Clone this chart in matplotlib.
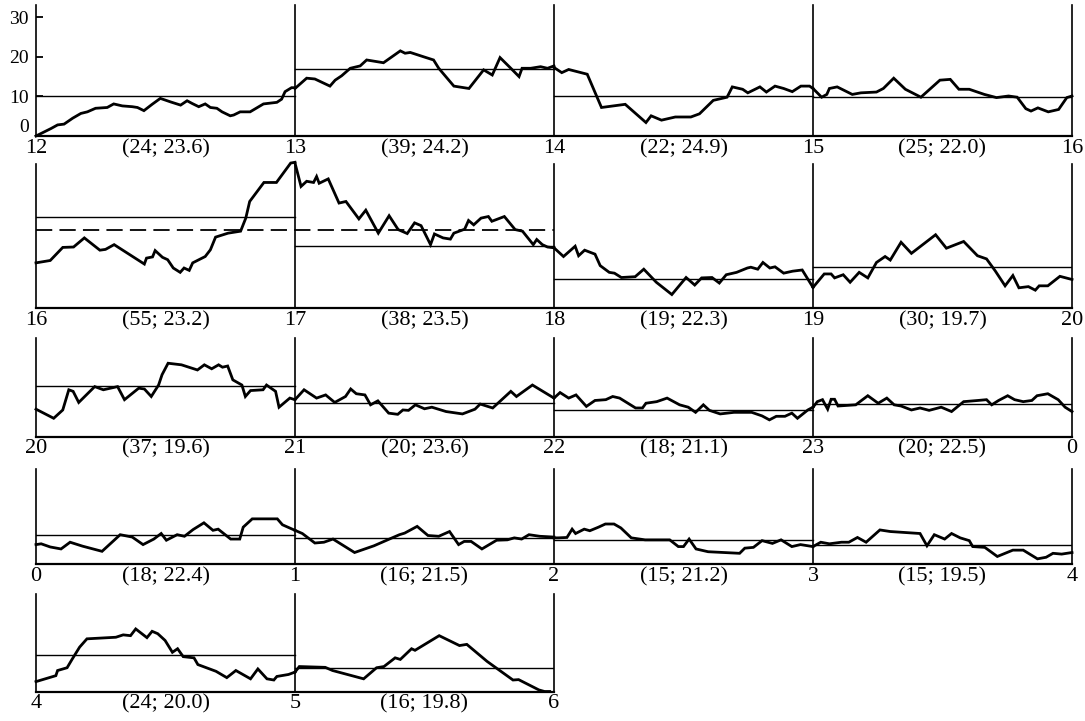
import matplotlib
matplotlib.use("Agg")
import matplotlib.pyplot as plt
from matplotlib.ticker import FixedLocator, FixedFormatter

plt.rcParams['font.family'] = ['Liberation Serif', 'DejaVu Serif']

# ---------------- data ----------------
# start hour of every panel (5 rows)
row_hours = [[12, 13, 14, 15, 16], [16, 17, 18, 19, 20], [20, 21, 22, 23, 0],
             [0, 1, 2, 3, 4], [4, 5, 6]]
panel_n = [24, 39, 22, 25, 55, 38, 19, 30, 37, 20, 18, 20, 18, 16, 15, 15, 24, 16]
panel_v = [23.6, 24.2, 24.9, 22.0, 23.2, 23.5, 22.3, 19.7, 19.6, 23.6, 21.1, 22.5,
           22.4, 21.5, 21.2, 19.5, 20.0, 19.8]
mean_level = [10.0, 16.8, 10.0, 9.9, 23.1, 15.7, 7.3, 10.3, 12.8, 8.4, 6.7, 8.2,
              7.4, 6.5, 6.1, 4.7, 9.1, 5.9]
dashed_level = 19.6          # dashed line over 16-18 h
y_ticks_row1 = [0, 10, 20, 30]

p12_t = [0, 3.5, 5, 6.5, 8.5, 10.4, 11.9, 13.8, 16.5, 18, 20, 22.3, 23.5, 25, 26.9, 28.8, 31.2, 33.5, 35, 36.2, 37.7, 39.2, 40.4, 41.9, 43.1, 45, 45.8, 47.3, 49.6, 52.7, 55.8, 56.9, 57.7, 59.2, 60]
p12_v = [0, 1.9, 2.8, 3.0, 4.5, 5.7, 6.1, 7.0, 7.2, 8.1, 7.6, 7.4, 7.2, 6.4, 8.0, 9.5, 8.6, 7.8, 8.9, 8.2, 7.4, 8.1, 7.2, 7.0, 6.1, 5.1, 5.3, 6.1, 6.1, 8.1, 8.5, 9.3, 11.2, 12.2, 12.2]
p13_t = [0, 2.7, 4.6, 8.1, 9.3, 10.8, 12.8, 15.1, 16.6, 20.5, 24.4, 25.5, 26.7, 29.8, 32.1, 33.3, 36.8, 40.3, 43.7, 45.7, 47.5, 50, 51.9, 52.6, 54.6, 56.9, 58.5, 60]
p13_v = [12.0, 14.6, 14.4, 12.6, 14.1, 15.2, 17.1, 17.7, 19.2, 18.5, 21.5, 20.9, 21.1, 20.0, 19.2, 17.1, 12.6, 12.0, 16.7, 15.4, 19.8, 17.1, 15.0, 17.1, 17.1, 17.5, 17.1, 17.7]
p14_t = [0, 1.8, 3.4, 7.7, 11, 16.5, 21.3, 22.5, 24.9, 28.1, 31.7, 33.7, 36.9, 40.1, 41.3, 43.7, 44.9, 47.7, 49.2, 51.2, 53.2, 55.2, 57.2, 59.2, 60]
p14_v = [17.3, 16.0, 16.8, 15.6, 7.2, 8.0, 3.4, 5.1, 4.0, 4.8, 4.8, 5.6, 9.0, 9.8, 12.4, 11.8, 10.9, 12.4, 11.1, 12.6, 12.0, 11.2, 12.6, 12.6, 12.0]
p15_t = [0, 2, 3.2, 3.8, 5.6, 9.1, 11.1, 14.7, 16.3, 18.7, 21.4, 25, 29.4, 31.8, 33.8, 36.2, 39.7, 42.5, 45.3, 47.3, 49.3, 50.5, 52.1, 54.5, 56.9, 58.8, 60]
p15_v = [12.0, 9.8, 10.5, 12.0, 12.4, 10.5, 10.9, 11.1, 12.0, 14.6, 11.8, 9.8, 14.1, 14.3, 11.8, 11.8, 10.5, 9.7, 10.1, 9.8, 6.9, 6.3, 7.1, 6.1, 6.7, 9.7, 10.1]
p16_t = [0, 3.3, 6.2, 8.7, 11.2, 14.8, 16.1, 18.1, 25.1, 25.6, 27, 27.6, 29.3, 30.5, 31.8, 33.4, 34.3, 35.5, 36.3, 39.2, 40.4, 41.6, 44.5, 47.4, 48.6, 49.5, 52.8, 55.7, 59, 60]
p16_v = [11.4, 12.0, 15.3, 15.4, 17.7, 14.6, 14.8, 16.0, 11.1, 12.6, 12.9, 14.5, 12.8, 12.2, 10.1, 9.0, 10.1, 9.5, 11.4, 13.0, 14.7, 17.9, 18.9, 19.4, 22.7, 26.9, 31.7, 31.7, 36.6, 36.8]
p17_t = [0, 1.4, 2.7, 4.3, 5, 5.6, 7.7, 10.2, 11.8, 14.8, 16.4, 19.3, 21.8, 23.9, 26, 27.7, 29.2, 31.4, 32.3, 34.3, 36, 36.8, 39.3, 40.2, 41.4, 43.1, 44.8, 45.6, 48.5, 51, 52.7, 55.2, 56, 57.3, 58.5, 60]
p17_v = [36.6, 30.7, 32.0, 31.7, 33.2, 31.5, 32.6, 26.5, 26.9, 22.5, 24.7, 18.9, 23.3, 19.8, 18.8, 21.5, 20.8, 16.0, 18.7, 17.7, 17.4, 18.9, 19.9, 22.1, 21.0, 22.7, 23.1, 21.9, 23.1, 19.8, 19.4, 16.0, 17.3, 16.0, 15.4, 15.2]
p18_t = [0, 2.2, 4.9, 5.7, 7.1, 9.5, 10.7, 12.8, 14, 15.6, 18.8, 20.8, 23.7, 27.3, 30.6, 32.6, 34.2, 36.6, 38.3, 39.9, 42.3, 44.8, 45.6, 47.2, 48.4, 50, 51.2, 53.2, 55.3, 57.5, 60]
p18_v = [15.2, 13.0, 15.6, 13.2, 14.6, 13.6, 10.7, 9.0, 8.8, 7.7, 7.9, 9.8, 6.5, 3.4, 7.7, 5.8, 7.6, 7.7, 6.3, 8.4, 9.0, 10.1, 10.3, 9.8, 11.5, 10.1, 10.4, 8.8, 9.3, 9.6, 5.2]
p19_t = [0, 2.6, 4.2, 5, 7, 8.6, 10.7, 12.7, 14.7, 16.7, 17.9, 20.4, 22.8, 28.4, 30.9, 34.9, 38.1, 40.2, 42.2, 44.5, 46.3, 47.7, 49.9, 51.5, 52.4, 54.4, 57.2, 60]
p19_v = [5.2, 8.6, 8.6, 7.6, 8.4, 6.5, 9.0, 7.6, 11.5, 13.0, 12.1, 16.6, 13.8, 18.5, 15.1, 16.8, 13.2, 12.4, 9.4, 5.6, 8.2, 5.1, 5.4, 4.5, 5.6, 5.6, 8.0, 7.2]
p20_t = [0, 4.1, 6.2, 7.6, 8.6, 9.9, 13.6, 15.6, 18.9, 20.5, 23.8, 25.1, 26.7, 28.4, 29.2, 30.6, 33.7, 37.4, 39, 40.7, 42.3, 43.2, 44.4, 45.6, 47.7, 48.5, 49.7, 52.6, 53.4, 55.5, 56.3, 58.8, 60]
p20_v = [6.9, 4.6, 6.7, 11.8, 11.4, 8.6, 12.6, 11.8, 12.6, 9.3, 12.2, 12.0, 10.1, 13.0, 15.6, 18.5, 18.1, 16.8, 18.1, 17.1, 18.1, 17.5, 17.8, 14.3, 13.0, 10.1, 11.6, 11.8, 13.0, 11.4, 7.4, 9.7, 9.3]
p21_t = [0, 2.1, 5, 7.1, 9.2, 11.7, 12.9, 14.2, 16.2, 17.5, 19.2, 21.7, 23.8, 25, 26.3, 27.9, 30, 31.7, 35, 38.8, 41.7, 42.9, 45.8, 50, 51.3, 55, 60]
p21_v = [9.3, 11.8, 9.7, 10.5, 8.6, 10.1, 12.0, 10.8, 10.5, 8.0, 9.0, 5.9, 5.6, 6.7, 6.6, 8.0, 7.0, 7.4, 6.3, 5.7, 6.9, 8.2, 7.2, 11.4, 10.1, 13.0, 9.7]
p22_t = [0, 1.4, 3.4, 5.1, 7.5, 9.5, 12, 13.6, 15.2, 18.9, 20.5, 21.3, 23.8, 26.2, 29.1, 31.1, 32.8, 34.6, 36, 38.5, 41.7, 45.8, 48.2, 49.9, 51.5, 53.5, 55.1, 56.4, 58.8, 60]
p22_v = [9.7, 11.1, 9.7, 10.5, 7.6, 9.1, 9.3, 10.1, 9.7, 7.2, 7.2, 8.4, 8.8, 9.7, 8.0, 7.4, 6.1, 8.0, 6.6, 5.7, 6.1, 6.1, 5.2, 4.2, 5.1, 5.1, 5.9, 4.6, 6.7, 7.4]
p23_t = [0, 1, 2.2, 3.4, 4.2, 5, 5.8, 9.9, 12.7, 15.1, 17.1, 18.8, 20.4, 22.8, 24.8, 26.9, 29.7, 32.1, 34.9, 38.2, 40.2, 41.4, 43, 45.1, 46.7, 48.7, 50.7, 51.9, 54.4, 56.8, 58.4, 60]
p23_v = [7.4, 8.8, 9.3, 6.9, 9.4, 9.4, 7.7, 8.0, 10.3, 8.4, 9.7, 8.0, 7.7, 6.7, 7.2, 6.6, 7.4, 6.3, 8.8, 9.1, 9.3, 8.0, 9.1, 10.3, 9.3, 8.8, 9.1, 10.3, 10.8, 9.3, 7.4, 6.3]
p0_t = [0, 1.2, 3.3, 5.8, 7.9, 10.8, 15.3, 19.5, 22.3, 24.8, 27.3, 29, 30.2, 32.7, 34.4, 36.4, 38.9, 41, 42.2, 45.1, 47.2, 48, 50.1, 55.9, 57.1, 60]
p0_v = [4.9, 5.1, 4.3, 3.8, 5.5, 4.5, 3.2, 7.4, 6.8, 4.9, 6.3, 7.7, 6.0, 7.4, 7.0, 8.7, 10.4, 8.5, 8.8, 6.3, 6.3, 9.3, 11.4, 11.4, 9.9, 8.5]
p1_t = [0, 1.7, 4.6, 6.7, 8.8, 11.3, 13.8, 18.3, 22.5, 24.2, 25.4, 28.3, 30.8, 33.3, 35.8, 37.9, 39.2, 40.8, 43.3, 46.7, 49.2, 50.8, 52.5, 54.2, 56.7, 60]
p1_v = [8.5, 7.7, 5.3, 5.5, 6.3, 4.6, 2.9, 4.6, 6.6, 7.4, 7.8, 9.5, 7.2, 7.0, 8.2, 4.9, 5.7, 5.7, 3.8, 6.0, 6.1, 6.6, 6.3, 7.4, 7.0, 6.8]
p2_t = [0, 1, 3, 4.2, 5, 7, 8.3, 10.3, 11.9, 13.9, 15.5, 17.9, 21.1, 26.8, 28.8, 30, 31.3, 32.9, 35.7, 43, 44.2, 46.2, 48.2, 50.6, 52.6, 55.1, 57.1, 60]
p2_v = [6.6, 6.6, 6.7, 8.8, 7.7, 8.8, 8.4, 9.3, 10.1, 10.1, 9.1, 6.6, 6.1, 6.1, 4.4, 4.4, 6.3, 3.8, 3.1, 2.7, 4.0, 4.2, 5.9, 5.2, 6.1, 4.4, 4.9, 4.4]
p3_t = [0, 1.8, 3.8, 6.6, 8.3, 10.3, 12.3, 15.5, 17.9, 24.8, 26.4, 28.1, 30.5, 32.1, 34.1, 36.2, 37, 39.8, 42.7, 46.3, 48.7, 52, 54, 55.6, 57.6, 60]
p3_v = [4.4, 5.5, 5.1, 5.5, 5.5, 6.7, 5.5, 8.6, 8.2, 7.7, 4.6, 7.4, 6.3, 7.7, 6.6, 5.9, 4.4, 4.2, 1.9, 3.5, 3.5, 1.3, 1.7, 2.7, 2.5, 2.9]
p4_t = [0, 4.6, 5, 7.2, 8.4, 10.1, 11.8, 18.5, 20.2, 21.9, 23.1, 25.7, 26.9, 28.2, 29.9, 31.6, 32.8, 34.1, 36.6, 37.5, 41.7, 44.2, 46.3, 49.7, 51.4, 53.5, 55.1, 55.8, 58.5, 60]
p4_v = [2.5, 4.0, 5.3, 6.0, 8.2, 11.2, 13.3, 13.7, 14.3, 14.1, 15.8, 13.6, 15.2, 14.6, 12.9, 9.9, 10.8, 8.8, 8.5, 6.8, 5.1, 3.5, 5.3, 3.2, 5.7, 3.2, 2.9, 3.8, 4.3, 4.9]
p5_t = [0, 1, 7, 8.7, 15.9, 18.9, 20.6, 23.2, 24.4, 27, 27.8, 33.4, 38.1, 39.8, 44.5, 50.5, 51.8, 56.5, 57.8, 59]
p5_v = [4.9, 6.3, 6.1, 5.3, 3.2, 6.0, 6.3, 8.5, 8.1, 10.8, 10.4, 14.1, 11.6, 11.9, 7.6, 2.9, 3.0, 0.4, 0.0, 0.0]

traces_t = [p12_t, p13_t, p14_t, p15_t, p16_t, p17_t, p18_t, p19_t, p20_t, p21_t, p22_t, p23_t,
            p0_t, p1_t, p2_t, p3_t, p4_t, p5_t]
traces_v = [p12_v, p13_v, p14_v, p15_v, p16_v, p17_v, p18_v, p19_v, p20_v, p21_v, p22_v, p23_v,
            p0_v, p1_v, p2_v, p3_v, p4_v, p5_v]

# ---------------- layout (pixels) ----------------
W, H = 1085, 721
left_px = 36
panel_px = 259
baselines = [136, 308, 436.5, 564, 691.5]
tops = [5, 164, 338, 469, 594]
px_per_unit = 3.96

fig = plt.figure(figsize=(W / 100, H / 100), dpi=100)

k = 0
for r, hrs in enumerate(row_hours):
    npan = len(hrs) - 1
    ytop = (baselines[r] - tops[r]) / px_per_unit
    ax = fig.add_axes([left_px / W, (H - baselines[r]) / H,
                       npan * panel_px / W, (baselines[r] - tops[r]) / H])
    ax.set_xlim(0, 60 * npan)
    ax.set_ylim(0, ytop)
    for s in ['top', 'left', 'right']:
        ax.spines[s].set_visible(False)
    ax.spines['bottom'].set_linewidth(1.6)

    # separators
    for i in range(npan + 1):
        ax.plot([60 * i, 60 * i], [0, ytop], color='black', lw=1.2, clip_on=False)

    for p in range(npan):
        x0 = 60 * p
        ax.plot([x0, x0 + 60], [mean_level[k], mean_level[k]], color='black', lw=1.0)
        ax.plot([x0 + t for t in traces_t[k]], traces_v[k], color='black', lw=2.0,
                solid_joinstyle='miter', clip_on=False)
        k += 1

    if r == 1:
        ax.plot([0, 120], [dashed_level, dashed_level], color='black', lw=1.3,
                dashes=(9, 4))

    # hour labels (major) and panel labels (minor)
    ax.xaxis.set_major_locator(FixedLocator([60 * i for i in range(npan + 1)]))
    ax.xaxis.set_major_formatter(FixedFormatter([str(h) for h in hrs]))
    ax.xaxis.set_minor_locator(FixedLocator([60 * i + 30 for i in range(npan)]))
    ax.xaxis.set_minor_formatter(FixedFormatter(
        ['(%d; %.1f)' % (panel_n[k - npan + i], panel_v[k - npan + i]) for i in range(npan)]))
    ax.tick_params(axis='x', which='both', length=0, pad=2, labelsize=16)

    if r == 0:
        ax.set_yticks(y_ticks_row1)
        ax.tick_params(axis='y', direction='in', length=5, width=1.3, pad=5,
                       labelsize=14)
        ylabels = ax.get_yticklabels()
        ylabels[0].set_verticalalignment('bottom')
    else:
        ax.set_yticks([])

fig.savefig('out.png', dpi=100)
